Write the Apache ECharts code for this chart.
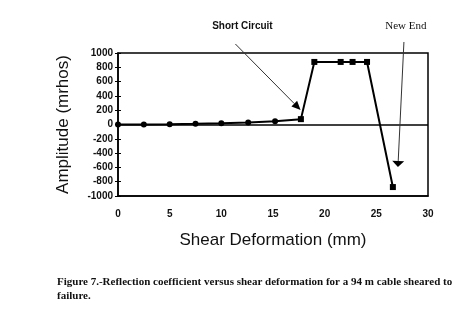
<!DOCTYPE html>
<html>
<head>
<meta charset="utf-8">
<script src="https://cdn.jsdelivr.net/npm/echarts@6/dist/echarts.min.js"></script>
<style>
html,body{margin:0;padding:0;background:#fff;}
#c{width:476px;height:322px;}
</style>
</head>
<body>
<div id="c"></div>
<script>
// Data
var shearMm = [0, 2.5, 5, 7.5, 10, 12.6, 15.2, 17.7, 19, 21.55, 22.7, 24.1, 26.6];
var amplitude = [0, 0, 3, 10, 18, 28, 45, 75, 875, 875, 875, 875, -875];
var markerShapes = ['circle','circle','circle','circle','circle','circle','circle','rect','rect','rect','rect','rect','rect'];
var yTicks = [-1000, -800, -600, -400, -200, 0, 200, 400, 600, 800, 1000];
var xTicks = [0, 5, 10, 15, 20, 25, 30];
// Annotations (data coordinates)
var annoLabels = ['Short Circuit', 'New End'];
var annoTextPos = [[12.04, 1378], [27.86, 1378]];
var annoArrowFrom = [[11.36, 1126], [27.67, 1154]];
var annoArrowTo = [[17.67, 203], [27.09, -594]];
var captionText = 'Figure 7.-Reflection coefficient versus shear deformation for a 94 m cable sheared to\nfailure.';

var chart = echarts.init(document.getElementById('c'), null, {renderer: 'canvas'});

var seriesData = shearMm.map(function (x, i) {
  return {value: [x, amplitude[i]], symbol: markerShapes[i]};
});

var option = {
  animation: false,
  backgroundColor: '#fff',
  grid: {left: 118, right: 48, top: 53, bottom: 126, show: true, borderColor: '#000', borderWidth: 1.5, backgroundColor: 'transparent'},
  title: {
    text: captionText,
    left: 57, top: 275, padding: 0,
    textStyle: {fontFamily: 'Liberation Serif', fontSize: 11, fontWeight: 'bold', color: '#111', lineHeight: 14}
  },
  xAxis: {
    type: 'value', min: xTicks[0], max: xTicks[xTicks.length - 1], interval: 5,
    name: 'Shear Deformation (mm)', nameLocation: 'middle', nameGap: 36,
    nameTextStyle: {fontFamily: 'Liberation Sans', fontSize: 17, color: '#111'},
    axisLine: {onZero: false, lineStyle: {color: '#000', width: 1.5}},
    axisTick: {show: false},
    splitLine: {show: false},
    axisLabel: {fontFamily: 'Liberation Sans', fontWeight: 'bold', fontSize: 10, color: '#111', margin: 13}
  },
  yAxis: [{
    type: 'value', min: yTicks[0], max: yTicks[yTicks.length - 1], interval: 200,
    name: 'Amplitude (mrhos)', nameLocation: 'middle', nameGap: 46, nameRotate: 90,
    nameTextStyle: {fontFamily: 'Liberation Sans', fontSize: 17, color: '#111'},
    axisLine: {show: true, lineStyle: {color: '#000', width: 1.5}},
    axisTick: {show: true, length: 3, inside: false, lineStyle: {color: '#000', width: 1}},
    splitLine: {show: false},
    axisLabel: {fontFamily: 'Liberation Sans', fontWeight: 'bold', fontSize: 10, color: '#111', margin: 5,
      formatter: function (v) { return String(v); }}
  }, {
    type: 'value', position: 'left', min: yTicks[0], max: yTicks[yTicks.length - 1], interval: 200,
    axisLine: {show: false},
    axisTick: {show: true, length: 3, inside: true, lineStyle: {color: '#000', width: 1}},
    axisLabel: {show: false},
    splitLine: {show: false}
  }],
  series: [{
    type: 'line',
    data: seriesData,
    symbolSize: 6,
    itemStyle: {color: '#000'},
    lineStyle: {color: '#000', width: 2},
    z: 5,
    markLine: {
      silent: true, symbol: 'none', label: {show: false},
      lineStyle: {color: '#000', width: 1.5, type: 'solid'},
      data: [{yAxis: 0}]
    }
  }]
};
chart.setOption(option);

function arrowGraphics() {
  var g = [];
  for (var i = 0; i < annoLabels.length; i++) {
    var a = chart.convertToPixel({gridIndex: 0}, annoArrowFrom[i]);
    var b = chart.convertToPixel({gridIndex: 0}, annoArrowTo[i]);
    var t = chart.convertToPixel({gridIndex: 0}, annoTextPos[i]);
    var dx = b[0] - a[0], dy = b[1] - a[1];
    var len = Math.sqrt(dx * dx + dy * dy);
    var ux = dx / len, uy = dy / len;
    var headLen = i === 0 ? 9 : 6;
    var headW = i === 0 ? 4 : 6;
    var base = [b[0] - ux * headLen, b[1] - uy * headLen];
    g.push({type: 'line', silent: true, z: 10,
      shape: {x1: a[0], y1: a[1], x2: base[0], y2: base[1]},
      style: {stroke: '#333', lineWidth: 1}});
    g.push({type: 'polygon', silent: true, z: 10,
      shape: {points: [b, [base[0] - uy * headW, base[1] + ux * headW], [base[0] + uy * headW, base[1] - ux * headW]]},
      style: {fill: '#000'}});
    g.push({type: 'text', silent: true, z: 10, x: t[0], y: t[1],
      style: {text: annoLabels[i], align: 'center', verticalAlign: 'middle',
        fontFamily: i === 0 ? 'Liberation Sans' : 'Liberation Serif',
        fontWeight: i === 0 ? 'bold' : 'normal', fontSize: i === 0 ? 10 : 11, fill: '#111'}});
  }
  return g;
}
chart.setOption({graphic: arrowGraphics()});
</script>
</body>
</html>
